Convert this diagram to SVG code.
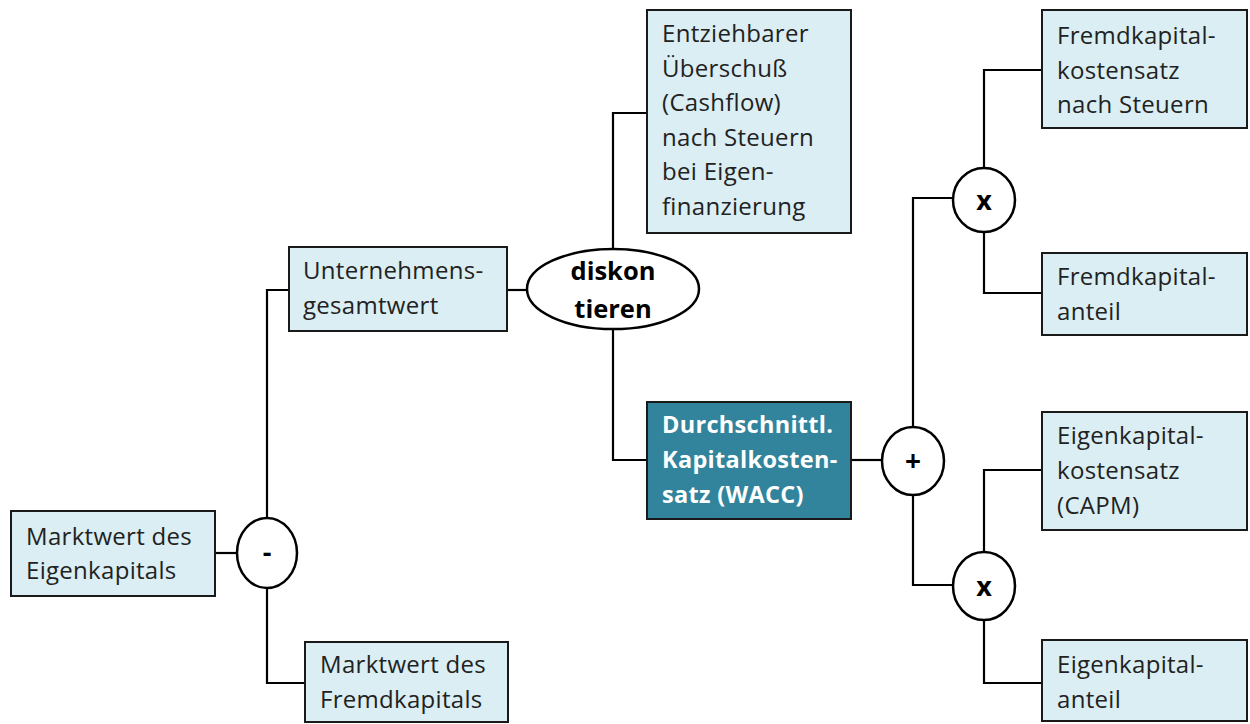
<svg xmlns="http://www.w3.org/2000/svg" width="1250" height="724" viewBox="0 0 1250 724">
<style>
.box{fill:#DAEEF3;stroke:#1a1a1a;stroke-width:2}
.dark{fill:#31849B;stroke:#1a1a1a;stroke-width:2}
.op{fill:#fff;stroke:#000;stroke-width:2.5}
.t{font-family:"Open Sans","Liberation Sans",sans-serif;font-size:24px;letter-spacing:0.3px;fill:#222}
.tw{font-family:"Open Sans","Liberation Sans",sans-serif;font-size:23.5px;letter-spacing:0.3px;font-weight:bold;fill:#fff}
.tb{font-family:"Open Sans","Liberation Sans",sans-serif;font-weight:bold;fill:#000;text-anchor:middle}
.c{fill:none;stroke:#000;stroke-width:2.2}
</style>
<rect width="1250" height="724" fill="#fff"/>
<g id="connectors">
<path class="c" d="M215,553 H237"/>
<path class="c" d="M290,290 H267 V518"/>
<path class="c" d="M267,588 V683 H305"/>
<path class="c" d="M507,290 H527"/>
<path class="c" d="M647,113 H613 V249"/>
<path class="c" d="M613,329 V460 H647"/>
<path class="c" d="M851,460 H882"/>
<path class="c" d="M913,427 V198 H953"/>
<path class="c" d="M913,495 V585 H953"/>
<path class="c" d="M984,168 V70 H1042"/>
<path class="c" d="M984,232 V293 H1042"/>
<path class="c" d="M984,552 V470 H1042"/>
<path class="c" d="M984,620 V683 H1042"/>
</g>
<g id="n-eigenkapital">
<rect class="box" x="11" y="511" width="204" height="85"/>
<text class="t" x="26" y="545">Marktwert des</text>
<text class="t" x="26" y="579">Eigenkapitals</text>
</g>
<g id="op-minus">
<ellipse class="op" cx="267" cy="553" rx="30" ry="35"/>
<text class="tb" x="267" y="562" font-size="27">-</text>
</g>
<g id="n-unternehmen">
<rect class="box" x="289" y="247" width="218" height="84"/>
<text class="t" x="303" y="279">Unternehmens-</text>
<text class="t" x="303" y="314">gesamtwert</text>
</g>
<g id="n-fremdkapital">
<rect class="box" x="305" y="642" width="203" height="80"/>
<text class="t" x="320" y="673">Marktwert des</text>
<text class="t" x="320" y="708">Fremdkapitals</text>
</g>
<g id="op-diskontieren">
<ellipse class="op" cx="613" cy="289" rx="86" ry="40"/>
<text class="tb" x="613" y="280" font-size="25.5">diskon</text>
<text class="tb" x="613" y="318" font-size="25.5">tieren</text>
</g>
<g id="n-cashflow">
<rect class="box" x="647" y="10" width="204" height="223"/>
<text class="t" x="662" y="42">Entziehbarer</text>
<text class="t" x="662" y="77">Überschuß</text>
<text class="t" x="662" y="111">(Cashflow)</text>
<text class="t" x="662" y="146">nach Steuern</text>
<text class="t" x="662" y="180">bei Eigen-</text>
<text class="t" x="662" y="215">finanzierung</text>
</g>
<g id="n-wacc">
<rect class="dark" x="647" y="402" width="204" height="117"/>
<text class="tw" x="662" y="433">Durchschnittl.</text>
<text class="tw" x="662" y="468">Kapitalkosten-</text>
<text class="tw" x="662" y="503">satz (WACC)</text>
</g>
<g id="op-plus">
<ellipse class="op" cx="913" cy="461" rx="31" ry="34"/>
<text class="tb" x="913" y="471" font-size="28">+</text>
</g>
<g id="op-mult1">
<ellipse class="op" cx="984" cy="200" rx="31" ry="32"/>
<text class="tb" x="984" y="210" font-size="27">x</text>
</g>
<g id="op-mult2">
<ellipse class="op" cx="984" cy="586" rx="31" ry="34"/>
<text class="tb" x="984" y="596" font-size="27">x</text>
</g>
<g id="n-fk-kosten">
<rect class="box" x="1042" y="10" width="205" height="118"/>
<text class="t" x="1057" y="44">Fremdkapital-</text>
<text class="t" x="1057" y="79">kostensatz</text>
<text class="t" x="1057" y="113">nach Steuern</text>
</g>
<g id="n-fk-anteil">
<rect class="box" x="1042" y="253" width="205" height="82"/>
<text class="t" x="1057" y="285">Fremdkapital-</text>
<text class="t" x="1057" y="320">anteil</text>
</g>
<g id="n-ek-kosten">
<rect class="box" x="1042" y="412" width="205" height="118"/>
<text class="t" x="1057" y="444">Eigenkapital-</text>
<text class="t" x="1057" y="479">kostensatz</text>
<text class="t" x="1057" y="514">(CAPM)</text>
</g>
<g id="n-ek-anteil">
<rect class="box" x="1042" y="640" width="205" height="81"/>
<text class="t" x="1057" y="673">Eigenkapital-</text>
<text class="t" x="1057" y="708">anteil</text>
</g>
</svg>
